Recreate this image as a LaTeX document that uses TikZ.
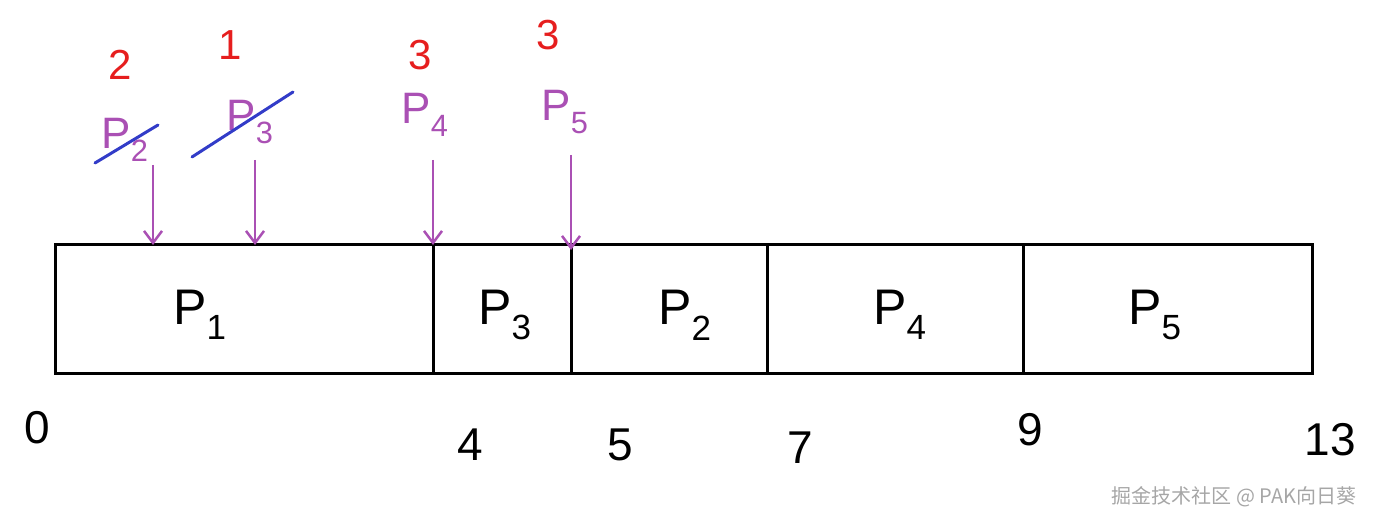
\documentclass[tikz,border=0pt]{standalone}
\usetikzlibrary{arrows.meta}
\usepackage{fontspec}
\setmainfont{Liberation Sans}
\newfontfamily\cjk{Noto Sans CJK SC}
\definecolor{pur}{RGB}{170,80,180}
\definecolor{rd}{RGB}{230,30,30}
\definecolor{bl}{RGB}{50,60,200}
\newcommand{\psub}[2]{#1\textsubscript{#2}}
\begin{document}
\begin{tikzpicture}[x=1pt,y=-1pt,
  lab/.style={font=\fontsize{50}{54}\selectfont},
  num/.style={font=\fontsize{46}{50}\selectfont},
  plab/.style={text=pur,font=\fontsize{44}{48}\selectfont},
  rlab/.style={text=rd,font=\fontsize{42}{46}\selectfont},
  arr/.style={pur,line width=2.5pt,-{Straight Barb[length=12pt,width=18pt]}},
  strike/.style={bl,line width=3pt,line cap=round}]
\useasboundingbox (0,0) rectangle (1373,529);
\draw[line width=3pt] (55,245) rectangle (1312,373);
\foreach \x in {433,571,767,1023}{\draw[line width=3pt] (\x,245) -- (\x,373);}
\node[lab] (q1) at (200,315) {\psub{P}{1}};
\node[lab] (q3) at (505,315) {\psub{P}{3}};
\node[lab] (q2) at (685,315) {\psub{P}{2}};
\node[lab] (q4) at (900,315) {\psub{P}{4}};
\node[lab] (q5) at (1155,315) {\psub{P}{5}};
\node[num] (n0) at (37,428) {0};
\node[num] (n4) at (470,445) {4};
\node[num] (n5) at (620,445) {5};
\node[num] (n7) at (800,448) {7};
\node[num] (n9) at (1030,430) {9};
\node[num] (n13) at (1330,440) {13};
\node[plab] (a2) at (125,140) {\psub{P}{2}};
\node[plab] (a3) at (250,122) {\psub{P}{3}};
\node[plab] (a4) at (425,115) {\psub{P}{4}};
\node[plab] (a5) at (565,112) {\psub{P}{5}};
\coordinate (t1) at (153,245); \coordinate (t2) at (255,245);
\coordinate (t3) at (433,245); \coordinate (t4) at (571,250);
\draw[arr] (153,165) -- (t1);
\draw[arr] (255,160) -- (t2);
\draw[arr] (433,160) -- (t3);
\draw[arr] (571,155) -- (t4);
\draw[strike] (95,163) -- (158,125);
\draw[strike] (192,157) -- (293,92);
\node[rlab] (r2) at (120,65) {2};
\node[rlab] (r1) at (230,45) {1};
\node[rlab] (r3) at (420,55) {3};
\node[rlab] (r4) at (548,35) {3};
\node[text=gray!70,font=\cjk\fontsize{20}{24}\selectfont,anchor=east] (wm) at (1360,497) {掘金技术社区 @ PAK向日葵};
\end{tikzpicture}
\end{document}
